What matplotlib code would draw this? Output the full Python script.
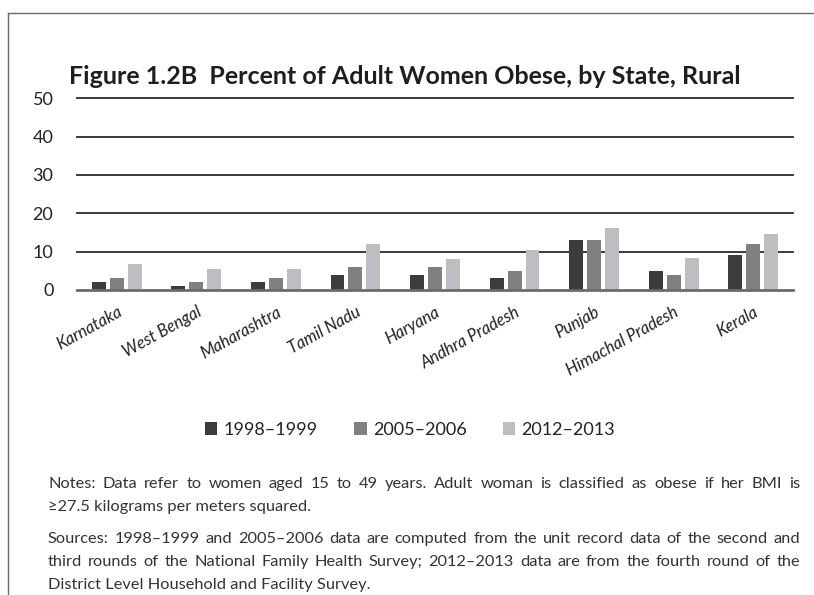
import matplotlib
matplotlib.use("Agg")
import matplotlib.pyplot as plt
import matplotlib.transforms as mtransforms
from matplotlib.patches import Patch
from matplotlib.lines import Line2D
import numpy as np

plt.rcParams['font.family'] = ['Lato', 'DejaVu Sans']

title = "Figure 1.2B  Percent of Adult Women Obese, by State, Rural"
states = ["Karnataka", "West Bengal", "Maharashtra", "Tamil Nadu", "Haryana",
          "Andhra Pradesh", "Punjab", "Himachal Pradesh", "Kerala"]
series_names = ["1998\u20131999", "2005\u20132006", "2012\u20132013"]
v1998 = [2, 1, 2, 4, 4, 3, 13, 5, 9]
v2005 = [3, 2, 3, 6, 6, 5, 13, 4, 12]
v2012 = [6.8, 5.4, 5.5, 12.1, 8.1, 10.5, 16.3, 8.3, 14.7]
yticks = [0, 10, 20, 30, 40, 50]
colors = ["#3c3c3c", "#808083", "#bdbec1"]

notes_lines = [
    ("Notes: Data refer to women aged 15 to 49 years. Adult woman is classified as obese if her BMI is", True),
    ("\u226527.5 kilograms per meters squared.", False),
]
sources_lines = [
    ("Sources: 1998\u20131999 and 2005\u20132006 data are computed from the unit record data of the second and", True),
    ("third rounds of the National Family Health Survey; 2012\u20132013 data are from the fourth round of the", True),
    ("District Level Household and Facility Survey.", False),
]

W, H = 814, 595
fig = plt.figure(figsize=(W / 100, H / 100), dpi=100)
fig.patch.set_facecolor("white")

# frame (top and left border)
fig.add_artist(Line2D([8 / W, 1.0], [1 - 13 / H, 1 - 13 / H], color="#6a6a6a", lw=1.0))
fig.add_artist(Line2D([8 / W, 8 / W], [0, 1 - 13 / H], color="#6a6a6a", lw=1.0))

# axes
ax_left, ax_right = 77 / W, 793 / W
y0, y50 = 290.0, 98.3
ax = fig.add_axes([ax_left, 1 - y0 / H, ax_right - ax_left, (y0 - y50) / H])
ax.set_ylim(0, 50)
ax.set_xlim(-0.5, len(states) - 0.5)
for s in ax.spines.values():
    s.set_visible(False)

x = np.arange(len(states))
bw = 0.175
step = 0.226
for i, (vals, c) in enumerate(zip([v1998, v2005, v2012], colors)):
    ax.bar(x + (i - 1) * step, vals, width=bw, color=c, zorder=2, label=series_names[i])

for t in yticks[1:]:
    ax.axhline(t, color="#2a2a2a", lw=1.3, zorder=1, clip_on=False)
ax.axhline(0, color="#6b6b6b", lw=2.0, zorder=3, clip_on=False)

ax.set_yticks(yticks)
ax.set_yticklabels([str(t) for t in yticks], fontsize=13, color="#222222")
ax.tick_params(axis="y", length=0, pad=17)
ax.set_xticks(x)
ax.set_xticklabels(states, rotation=29, ha="right", va="top", rotation_mode="anchor",
                   fontsize=12, style="italic", color="#222222")
ax.tick_params(axis="x", length=0, pad=10)

fig.text(405 / W, 1 - 76 / H, title, ha="center", va="center", fontsize=18,
         fontweight="bold", color="#1e1e1e")

handles = [Patch(facecolor=c, edgecolor="none") for c in colors]
fig.legend(handles, series_names, loc="center", bbox_to_anchor=(410 / W, 1 - 430 / H),
           ncol=3, frameon=False, fontsize=13, handlelength=0.7, handleheight=0.7,
           handletextpad=0.35, columnspacing=2.0, labelcolor="#222222")

# justified footnote text
fig.canvas.draw()
renderer = fig.canvas.get_renderer()
left_px, right_px = 48, 800
fs_note = 11.8


def draw_line(text, ypx, justify):
    words = text.split(" ")
    if not justify:
        fig.text(left_px / W, 1 - ypx / H, text, ha="left", va="baseline",
                 fontsize=fs_note, color="#333333")
        return
    widths = []
    for w in words:
        t = fig.text(0, 0, w, fontsize=fs_note)
        bb = t.get_window_extent(renderer)
        widths.append(bb.width)
        t.remove()
    gap = (right_px - left_px - sum(widths)) / (len(words) - 1)
    xp = left_px
    for w, wd in zip(words, widths):
        fig.text(xp / W, 1 - ypx / H, w, ha="left", va="baseline",
                 fontsize=fs_note, color="#333333")
        xp += wd + gap


ys_notes = [488, 511]
ys_sources = [543, 566, 589]
for (t, j), yp in zip(notes_lines, ys_notes):
    draw_line(t, yp, j)
for (t, j), yp in zip(sources_lines, ys_sources):
    draw_line(t, yp, j)

fig.savefig("out.png", dpi=100, facecolor="white")
